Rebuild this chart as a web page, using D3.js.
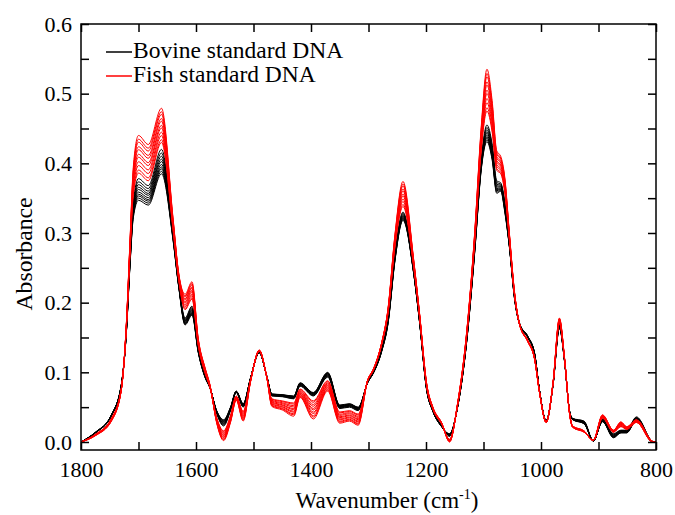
<!DOCTYPE html>
<html>
<head>
<meta charset="utf-8">
<script src="https://cdn.jsdelivr.net/npm/d3@7"></script>
<style>
  body { margin: 0; background: #fff; }
</style>
</head>
<body>
<svg id="chart"></svg>
<script>
// wavenumbers (cm-1)
var wavenumbers = [1800, 1775, 1747, 1730, 1721, 1715, 1709, 1700, 1683, 1660, 1640, 1630, 1619, 1607, 1596, 1584, 1576, 1564, 1552, 1540, 1530, 1518, 1505, 1490, 1477, 1468, 1450, 1430, 1419, 1396, 1371, 1350, 1333, 1318, 1301, 1292, 1277, 1266, 1254, 1240, 1222, 1211, 1199, 1188, 1173, 1159, 1145, 1130, 1115, 1104, 1094, 1085, 1077, 1070, 1063, 1055, 1046, 1037, 1023, 1011, 1003, 991, 979, 968, 959, 950, 945, 925, 909, 893, 874, 861, 851, 834, 806, 800];

// bovine spectra: lowest and highest of the bundle
var bovineLow = [0, 0.013, 0.038, 0.080, 0.158, 0.250, 0.322, 0.347, 0.340, 0.385, 0.290, 0.222, 0.168, 0.182, 0.128, 0.092, 0.078, 0.045, 0.032, 0.050, 0.073, 0.055, 0.092, 0.128, 0.095, 0.069, 0.068, 0.066, 0.085, 0.071, 0.100, 0.053, 0.055, 0.050, 0.086, 0.098, 0.130, 0.170, 0.260, 0.318, 0.245, 0.170, 0.075, 0.044, 0.022, 0.012, 0.050, 0.138, 0.275, 0.390, 0.431, 0.405, 0.357, 0.360, 0.330, 0.280, 0.205, 0.168, 0.150, 0.125, 0.076, 0.029, 0.082, 0.163, 0.115, 0.042, 0.032, 0.026, 0.002, 0.029, 0.006, 0.013, 0.013, 0.031, 0.000, 0];
var bovineHigh = [0, 0.014, 0.039, 0.082, 0.162, 0.262, 0.345, 0.378, 0.368, 0.420, 0.302, 0.228, 0.178, 0.195, 0.134, 0.096, 0.080, 0.041, 0.023, 0.045, 0.071, 0.050, 0.092, 0.130, 0.094, 0.066, 0.065, 0.062, 0.080, 0.066, 0.093, 0.048, 0.050, 0.045, 0.087, 0.100, 0.135, 0.178, 0.270, 0.330, 0.250, 0.174, 0.078, 0.045, 0.024, 0.008, 0.052, 0.142, 0.285, 0.405, 0.455, 0.428, 0.375, 0.372, 0.345, 0.285, 0.210, 0.170, 0.152, 0.127, 0.076, 0.031, 0.084, 0.170, 0.118, 0.043, 0.034, 0.030, 0.001, 0.033, 0.012, 0.017, 0.017, 0.036, 0.001, 0];

// fish spectra: lowest and highest of the bundle
var fishLow = [0, 0.011, 0.034, 0.076, 0.166, 0.268, 0.355, 0.386, 0.375, 0.430, 0.305, 0.232, 0.190, 0.205, 0.138, 0.098, 0.079, 0.035, 0.016, 0.038, 0.066, 0.044, 0.090, 0.130, 0.094, 0.062, 0.059, 0.056, 0.076, 0.059, 0.088, 0.043, 0.045, 0.040, 0.089, 0.102, 0.140, 0.185, 0.280, 0.338, 0.255, 0.178, 0.080, 0.047, 0.026, 0.004, 0.053, 0.146, 0.290, 0.418, 0.475, 0.445, 0.390, 0.385, 0.358, 0.290, 0.210, 0.168, 0.146, 0.120, 0.074, 0.029, 0.084, 0.170, 0.118, 0.040, 0.023, 0.016, 0.002, 0.034, 0.014, 0.022, 0.018, 0.028, 0.000, 0];
var fishHigh = [0, 0.009, 0.030, 0.074, 0.172, 0.285, 0.395, 0.440, 0.427, 0.479, 0.322, 0.242, 0.212, 0.230, 0.148, 0.106, 0.083, 0.027, 0.002, 0.028, 0.060, 0.030, 0.087, 0.132, 0.093, 0.051, 0.046, 0.037, 0.064, 0.033, 0.073, 0.027, 0.030, 0.024, 0.090, 0.104, 0.143, 0.192, 0.298, 0.374, 0.266, 0.183, 0.085, 0.050, 0.028, 0.000, 0.056, 0.152, 0.305, 0.452, 0.535, 0.490, 0.418, 0.410, 0.380, 0.300, 0.215, 0.168, 0.144, 0.118, 0.073, 0.028, 0.086, 0.178, 0.120, 0.038, 0.021, 0.014, 0.003, 0.039, 0.017, 0.029, 0.022, 0.032, 0.001, 0];

// where each spectrum sits between the low and high one (spacing of the lines)
var bovineLevels = [0, 0.1, 0.2, 0.28, 0.38, 0.5, 0.6, 0.72, 0.85, 1];
var fishLevels = [0, 0.08, 0.2, 0.3, 0.42, 0.5, 0.62, 0.7, 0.82, 0.9, 1];

var xTicks = [1800, 1600, 1400, 1200, 1000, 800];
var xMinorTicks = [1700, 1500, 1300, 1100, 900];
var yTicks = [0, 0.1, 0.2, 0.3, 0.4, 0.5, 0.6];
var yMinorTicks = [0.05, 0.15, 0.25, 0.35, 0.45, 0.55];

var legendItems = [
  { label: "Bovine standard DNA", color: "#000000" },
  { label: "Fish standard DNA", color: "#ff0000" }
];

var FONT = "'Liberation Serif', 'Times New Roman', serif";
var W = 675, H = 515;
var margin = { top: 24, right: 19, bottom: 65, left: 81 },
  width = W - margin.left - margin.right,
  height = H - margin.top - margin.bottom;

var svg = d3.select("#chart").attr("width", W).attr("height", H)
  .style("font-family", FONT);
var g = svg.append("g").attr("transform", "translate(" + margin.left + "," + margin.top + ")");

var x = d3.scaleLinear().domain([1800, 800]).range([0, width]);
var y = d3.scaleLinear().domain([-0.0115, 0.6]).range([height, 0]);

// shrink or grow a text so it takes the width it has in the original figure
function fitWidth(sel, target) {
  var size = 22;
  sel.attr("font-size", size);
  var w = sel.node().getComputedTextLength();
  if (w > 0) sel.attr("font-size", (size * target / w).toFixed(2));
}

g.append("clipPath").attr("id", "clip")
  .append("rect").attr("width", width).attr("height", height);

function spectrum(low, high, t) {
  return wavenumbers.map(function (w, i) {
    return { w: w, a: low[i] + t * (high[i] - low[i]) };
  });
}

var line = d3.line()
  .x(function (d) { return x(d.w); })
  .y(function (d) { return y(d.a); })
  .curve(d3.curveMonotoneX);

var plot = g.append("g").attr("clip-path", "url(#clip)");

plot.selectAll(".bovine")
  .data(bovineLevels.map(function (t) { return spectrum(bovineLow, bovineHigh, t); }))
  .enter().append("path")
  .attr("class", "bovine")
  .attr("fill", "none")
  .attr("stroke", legendItems[0].color)
  .attr("stroke-width", 1)
  .attr("d", line);

plot.selectAll(".fish")
  .data(fishLevels.map(function (t) { return spectrum(fishLow, fishHigh, t); }))
  .enter().append("path")
  .attr("class", "fish")
  .attr("fill", "none")
  .attr("stroke", legendItems[1].color)
  .attr("stroke-width", 1)
  .attr("d", line);

// axes, ticks pointing inward on all four sides
function styleAxis(sel) {
  sel.attr("font-family", null).attr("font-size", 22);
  sel.select(".domain").remove();
  sel.selectAll(".tick line").attr("stroke", "#000").attr("stroke-width", 1.5);
  sel.selectAll("text").attr("fill", "#000");
}

g.append("g").attr("transform", "translate(0," + height + ")")
  .call(d3.axisBottom(x).tickValues(xTicks).tickSize(-8).tickPadding(11).tickFormat(d3.format("d")))
  .call(styleAxis);
g.append("g").attr("transform", "translate(0," + height + ")")
  .call(d3.axisBottom(x).tickValues(xMinorTicks).tickSize(-8).tickFormat(""))
  .call(styleAxis);
g.append("g")
  .call(d3.axisTop(x).tickValues(xTicks.concat(xMinorTicks)).tickSize(-8).tickFormat(""))
  .call(styleAxis);

g.append("g")
  .call(d3.axisLeft(y).tickValues(yTicks).tickSize(-8).tickPadding(9).tickFormat(d3.format(".1f")))
  .call(styleAxis);
g.append("g")
  .call(d3.axisLeft(y).tickValues(yMinorTicks).tickSize(-8).tickFormat(""))
  .call(styleAxis);
g.append("g").attr("transform", "translate(" + width + ",0)")
  .call(d3.axisRight(y).tickValues(yTicks.concat(yMinorTicks)).tickSize(-8).tickFormat(""))
  .call(styleAxis);

// frame
g.append("rect")
  .attr("width", width).attr("height", height)
  .attr("fill", "none").attr("stroke", "#000").attr("stroke-width", 1.5);

// axis titles
svg.append("text")
  .attr("transform", "translate(32,254) rotate(-90)")
  .attr("text-anchor", "middle")
  .text("Absorbance")
  .call(fitWidth, 113);

var xt = svg.append("text")
  .attr("x", 387).attr("y", 508)
  .attr("text-anchor", "middle")
  .attr("font-size", 23);
xt.append("tspan").text("Wavenumber (cm");
xt.append("tspan").attr("dy", -9).attr("font-size", 14).text("-1");
xt.append("tspan").attr("dy", 9).text(")");

// legend
var legend = svg.append("g").attr("transform", "translate(106,52)");
legendItems.forEach(function (item, i) {
  var row = legend.append("g").attr("transform", "translate(0," + i * 24 + ")");
  row.append("line")
    .attr("x1", 0).attr("x2", 26).attr("y1", 0).attr("y2", 0)
    .attr("stroke", item.color).attr("stroke-width", 1.5);
  row.append("text")
    .attr("x", 27).attr("y", 6)
    .attr("font-size", 23.5)
    .text(item.label);
});
</script>
</body>
</html>
